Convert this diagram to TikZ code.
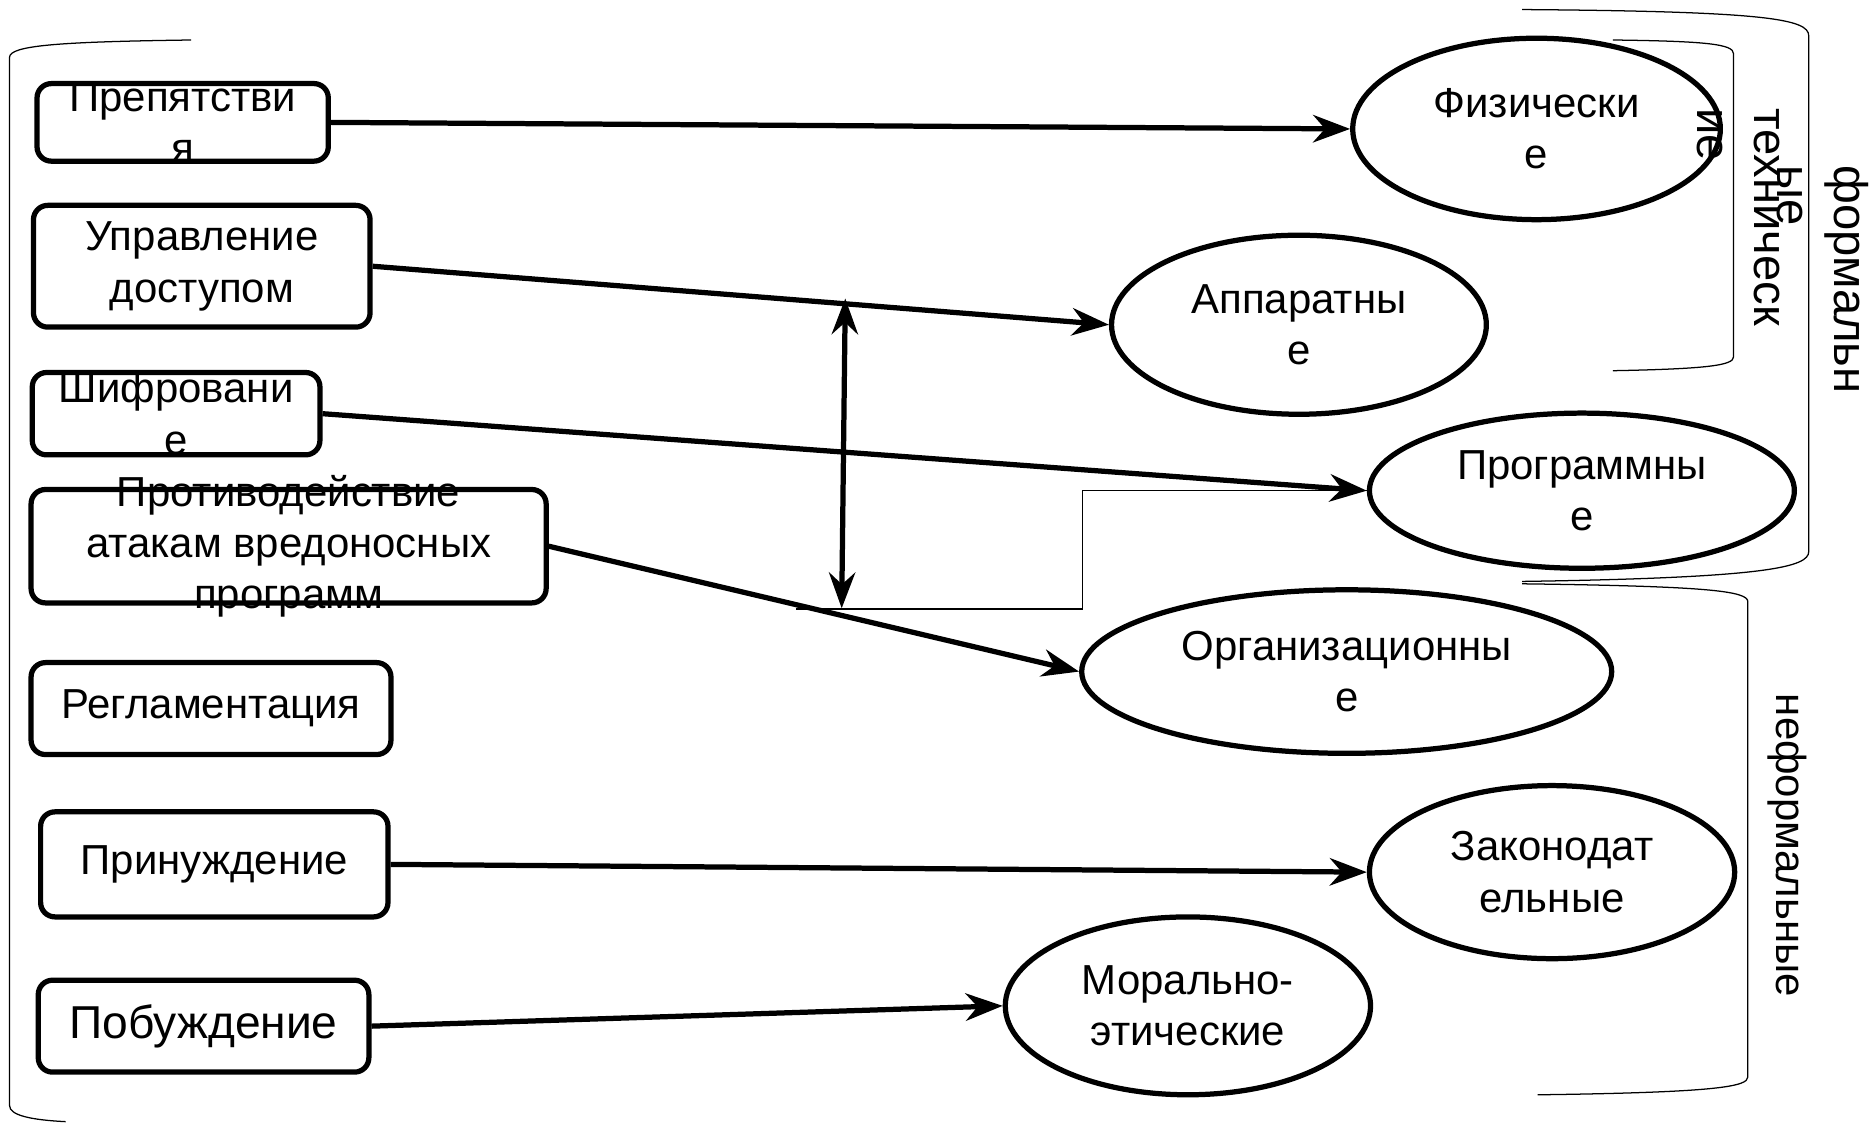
\documentclass[tikz,border=0pt]{standalone}
\usepackage{fontspec}
\setmainfont{Liberation Sans}
\usetikzlibrary{arrows.meta,shapes.geometric}

\tikzstyle{box} = [rectangle, rounded corners=0.24cm, draw=black, line width=2.5pt, fill=white, inner sep=0pt, align=center]
\tikzstyle{oval} = [ellipse, draw=black, line width=2.5pt, fill=white, inner sep=0pt, align=center]
\tikzstyle{arrow} = [line width=2.5pt, -{Stealth[length=0.62cm, width=0.46cm, inset=0.2cm]}]
\tikzstyle{both} = [line width=2.5pt, {Stealth[length=0.6cm, width=0.44cm, inset=0.2cm]}-{Stealth[length=0.6cm, width=0.44cm, inset=0.2cm]}]
\tikzstyle{brace} = [line width=0.6pt]
\tikzstyle{side} = [rotate=-90, align=left, inner sep=0pt]

\begin{document}
\begin{tikzpicture}[x=0.02cm, y=-0.02cm, font=\fontsize{20}{24.5}\selectfont]

  \useasboundingbox (0,0) rectangle (1568,941.5);

  % --- %

  \draw [brace] (160,33.5) .. controls (50,35) and (8,38) .. (8,48) -- (8,926) .. controls (8,934) and (25,938) .. (55,939.5);
  \draw [brace] (1351,33.5) .. controls (1430,34.5) and (1452,37) .. (1452,45) -- (1452,299) .. controls (1452,306) and (1430,309) .. (1351,310.5);
  \draw [brace] (1275,8) .. controls (1480,9.5) and (1515,16) .. (1515,30) -- (1515,462) .. controls (1515,475) and (1480,484) .. (1275,487);
  \draw [brace] (1275,489) .. controls (1430,491) and (1464,495) .. (1464,504) -- (1464,902) .. controls (1464,910) and (1440,915) .. (1288,917);

  % --- %

  \node (b1) [box, minimum width=4.88cm, minimum height=1.30cm,
    path picture={\node [align=center] at (path picture bounding box.center) {Препятстви\\я};}] at (153,102.5) {};
  \node (b2) [box, minimum width=5.64cm, minimum height=2.04cm] at (169,223) {Управление\\доступом};
  \node (b3) [box, minimum width=4.82cm, minimum height=1.38cm,
    path picture={\node [align=center] at (path picture bounding box.center) {Шифровани\\е};}] at (147.5,346.5) {};
  \node (b4) [box, minimum width=8.63cm, minimum height=1.90cm] at (241.75,457.5) {};
  \node (b4text) [align=center] at (b4) {Противодействие\\атакам вредоносных\\программ};
  \node (b5) [box, minimum width=6.03cm, minimum height=1.54cm] at (176.75,593.5) {Регламентация};
  \node (b6) [box, minimum width=5.82cm, minimum height=1.76cm] at (179.5,724) {Принуждение};
  \node (b7) [box, minimum width=5.54cm, minimum height=1.54cm, font=\fontsize{22}{26}\selectfont] at (170.5,859.5) {Побуждение};

  % --- %

  \node (phys) [oval, minimum width=6.16cm, minimum height=3.04cm] at (1287,108) {Физически\\е};
  \node (app) [oval, minimum width=6.28cm, minimum height=3.00cm] at (1088,272) {Аппаратны\\е};
  \node (prog) [oval, minimum width=7.12cm, minimum height=2.60cm] at (1325,411) {Программны\\е};
  \node (org) [oval, minimum width=8.88cm, minimum height=2.74cm] at (1128,562.5) {Организационны\\е};
  \node (zakon) [oval, minimum width=6.12cm, minimum height=2.90cm] at (1300,730.5) {Законодат\\ельные};
  \node (moral) [oval, minimum width=6.12cm, minimum height=2.98cm] at (995,842.5) {Морально-\\этические};

  % --- %

  \draw [arrow] (b1.east) -- (phys.west);
  \draw [arrow] (b2.east) -- (app.west);
  \draw [arrow] (b3.east) -- (prog.west);
  \draw [arrow] (b4.east) -- (org.west);
  \draw [arrow] (b6.east) -- (zakon.west);
  \draw [arrow] (b7.east) -- (moral.west);

  \coordinate (dtop) at (708,250);
  \coordinate (dbot) at (705,509.5);
  \draw [both] (dtop) -- (dbot);

  \coordinate (lstart) at (667,510);
  \draw [brace] (lstart) -- ++(240,0) |- (prog.west);

  % --- %

  \node (tech) [side, font=\fontsize{22.5}{27}\selectfont] at (1456,182) {техническ\\ие};
  \node (formal) [side, font=\fontsize{22.5}{27}\selectfont] at (1527,234) {формальн\\ые};
  \node (informal) [side] at (1497,708) {неформальные};

\end{tikzpicture}
\end{document}
